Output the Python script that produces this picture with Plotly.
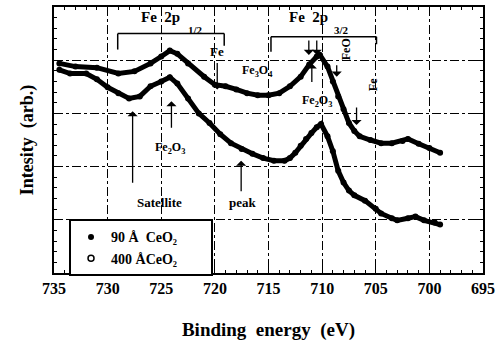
import plotly.graph_objects as go

# Binding energy (eV) and intensity (arb.)
e_400 = [734.5, 733, 731, 729, 727.5, 726, 725, 724.2, 723.5, 722.5, 721, 720, 719, 718, 717, 716, 715,
         714, 713, 712, 711.2, 710.5, 710.2, 709.5, 709, 708.5, 708, 707.5, 707, 706.5, 705.5, 704.5,
         703.5, 702.5, 702, 701, 700, 699]
i_400 = [3.94, 3.88, 3.86, 3.75, 3.79, 3.94, 4.07, 4.18, 4.12, 3.94, 3.69, 3.54, 3.51, 3.45, 3.38, 3.34, 3.34,
         3.38, 3.51, 3.69, 3.92, 4.07, 4.10, 3.88, 3.60, 3.32, 3.08, 2.82, 2.67, 2.57, 2.50, 2.44,
         2.44, 2.48, 2.52, 2.43, 2.35, 2.26]

e_90 = [734.5, 733.5, 732, 731, 730, 729, 728, 727, 726, 725, 724.2, 723.5, 722.5, 721.5, 720.5, 719.5,
        718.5, 717.5, 716.5, 715.5, 714.5, 713.5, 713, 712.5, 712, 711.5, 711, 710.5, 710.1, 709.5, 709,
        708.5, 708, 707.5, 707, 706, 705, 704.5, 703.5, 703, 702, 701.3, 700.5, 699.5, 699]
i_90 = [3.82, 3.75, 3.75, 3.64, 3.49, 3.38, 3.28, 3.32, 3.51, 3.60, 3.68, 3.56, 3.28, 3.00, 2.82, 2.61,
        2.44, 2.33, 2.24, 2.16, 2.11, 2.11, 2.16, 2.26, 2.39, 2.52, 2.63, 2.74, 2.80, 2.57, 2.29,
        1.92, 1.70, 1.55, 1.46, 1.36, 1.21, 1.12, 1.03, 0.99, 1.03, 1.06, 0.99, 0.95, 0.91]

x_ticks = [735, 730, 725, 720, 715, 710, 705, 700, 695]
series_names = ["90 Å  CeO₂" + "\u00a0" * 8, "400 ÅCeO₂" + "\u00a0" * 8]

SERIF = "Liberation Serif, Times New Roman, serif"

fig = go.Figure()
for ex, iy in [(e_400, i_400), (e_90, i_90)]:
    fig.add_trace(go.Scatter(x=ex, y=iy, mode="lines+markers", showlegend=False,
                             line=dict(color="black", width=5),
                             marker=dict(color="black", size=6)))

fig.add_trace(go.Scatter(x=[None], y=[None], mode="markers", name=series_names[0],
                         marker=dict(symbol="circle", size=6, color="black")))
fig.add_trace(go.Scatter(x=[None], y=[None], mode="markers", name=series_names[1],
                         marker=dict(symbol="circle-open", size=6, color="black", line=dict(width=1.5))))

# text labels
def txt(x, y, t, size=12, angle=0):
    fig.add_annotation(x=x, y=y, text=t, showarrow=False, textangle=angle,
                       font=dict(family=SERIF, size=size, color="black", weight="bold"))

def arrow(x, y, ay):
    fig.add_annotation(x=x, y=y, ax=0, ay=ay, text="", showarrow=True,
                       arrowhead=1, arrowsize=1.3, arrowwidth=1.3, arrowcolor="black")

txt(725.07, 4.81, "Fe  2p", 15)
txt(721.8, 4.57, "1/2", 11)
txt(711.24, 4.81, "Fe  2p", 15)
txt(708.2, 4.57, "3/2", 11)
txt(719.78, 4.16, "Fe", 13)
txt(716.07, 3.79, "Fe<sub>3</sub>O<sub>4</sub>", 12)
txt(707.8, 4.20, "FeO", 12, -90)
txt(705.3, 3.54, "Fe", 12, -90)
txt(710.5, 3.23, "Fe<sub>2</sub>O<sub>3</sub>", 12)
txt(724.23, 2.35, "Fe<sub>2</sub>O<sub>3</sub>", 12)
txt(725.16, 1.32, "Satellite", 13)
txt(717.37, 1.32, "peak", 13)

arrow(719.78, 3.45, -28)
arrow(711.24, 4.10, -16)
arrow(710.5, 4.10, -16)
arrow(710.96, 3.94, 20)
arrow(708.64, 3.69, -13)
arrow(706.79, 2.78, -19)
arrow(724.05, 3.23, 28)
arrow(727.67, 3.04, 73)
arrow(717.55, 2.11, 32)

# brackets
ln = dict(color="black", width=1.5)
for x0, y0, x1, y1 in [(729.06, 4.50, 719.13, 4.50), (729.06, 4.50, 729.06, 4.20), (719.13, 4.50, 719.13, 4.27),
                       (714.77, 4.44, 704.93, 4.44), (714.77, 4.44, 714.77, 4.16), (704.93, 4.44, 704.93, 4.30)]:
    fig.add_shape(type="line", x0=x0, y0=y0, x1=x1, y1=y1, line=ln)

axis_common = dict(showline=True, linecolor="black", linewidth=2, mirror="allticks",
                   ticks="inside", tickcolor="black", ticklen=6, tickwidth=1.2,
                   showgrid=True, gridcolor="black", griddash="dashdot", gridwidth=1.2,
                   zeroline=False)

fig.update_xaxes(range=[735, 695], tickvals=x_ticks, ticktext=[str(v) for v in x_ticks],
                 tickfont=dict(family=SERIF, size=16, color="black", weight="bold"),
                 minor=dict(dtick=1, ticks="inside", ticklen=3, tickcolor="black", tickwidth=1, showgrid=False),
                 title=dict(text="Binding  energy  (eV)", standoff=26,
                            font=dict(family=SERIF, size=19, color="black", weight="bold")),
                 **axis_common)
fig.update_yaxes(range=[0, 5], dtick=1, showticklabels=False,
                 minor=dict(dtick=0.2, ticks="inside", ticklen=3, tickcolor="black", tickwidth=1, showgrid=False),
                 title=dict(text="Intesity  (arb.)", standoff=14,
                            font=dict(family=SERIF, size=18, color="black", weight="bold")),
                 **axis_common)

fig.update_layout(
    width=500, height=343,
    margin=dict(l=54, r=14, t=5, b=70),
    paper_bgcolor="white", plot_bgcolor="white",
    legend=dict(x=0.035, y=0.2015, xanchor="left", yanchor="top",
                bgcolor="white", bordercolor="black", borderwidth=2,
                font=dict(family=SERIF, size=14, color="black", weight="bold"),
                tracegroupgap=0, itemwidth=30),
)

fig.write_html("out.html")
